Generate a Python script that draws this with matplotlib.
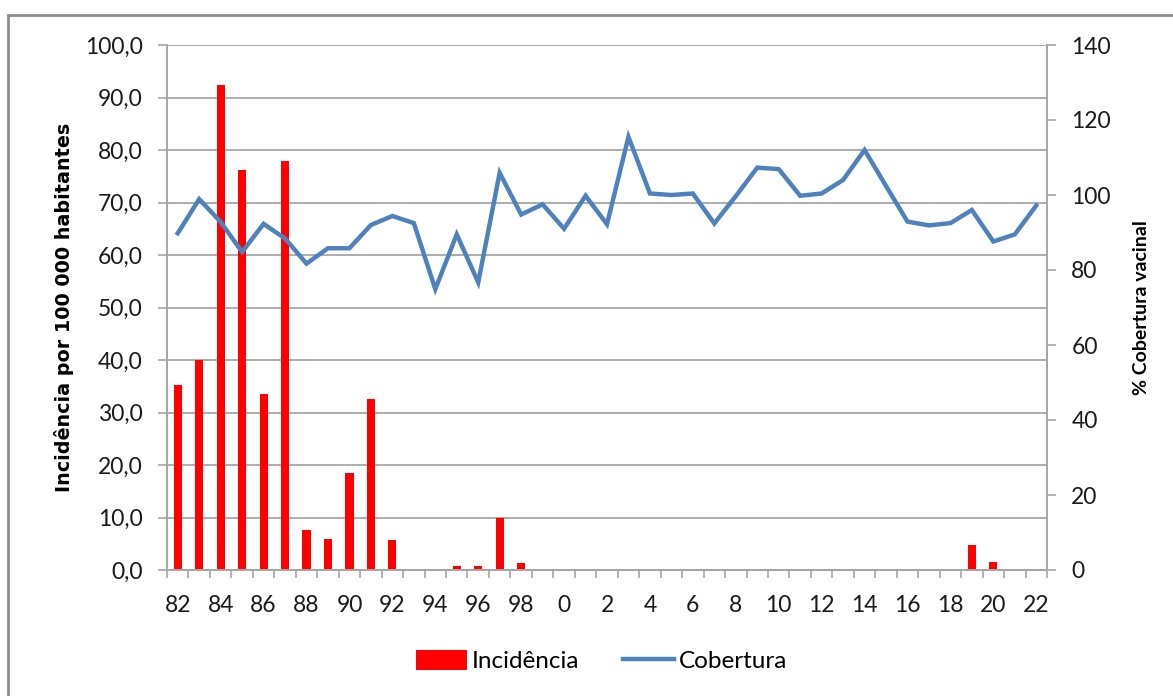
import numpy as np
import matplotlib
matplotlib.use("Agg")
from matplotlib import pyplot as plt
from matplotlib.patches import Patch, Rectangle
from matplotlib.lines import Line2D
from matplotlib.ticker import FuncFormatter

# anos 1982-2022
anos = list(range(1982, 2023))
rotulos = [str(a % 100) for a in anos]

# incidencia por 100 000 habitantes (eixo esquerdo)
incidencia = [35.2, 40.0, 92.3, 76.2, 33.5, 78.0, 7.7, 6.0, 18.4, 32.6,
              5.7, 0.0, 0.0, 0.8, 0.8, 10.0, 1.3, 0.0, 0.0, 0.0,
              0.0, 0.0, 0.0, 0.0, 0.0, 0.0, 0.0, 0.0, 0.0, 0.0,
              0.0, 0.0, 0.0, 0.0, 0.0, 0.0, 0.0, 4.7, 1.6, 0.0, 0.0]

# % cobertura vacinal (eixo direito)
cobertura = [89.8, 98.9, 92.8, 84.8, 92.3, 88.4, 81.7, 85.8, 85.8, 92.0,
             94.4, 92.5, 74.9, 89.5, 76.7, 105.9, 94.8, 97.5, 91.0, 99.8,
             92.2, 115.5, 100.4, 100.0, 100.4, 92.4, 99.7, 107.3, 106.9, 99.8,
             100.4, 104.0, 112.0, 102.4, 92.9, 91.9, 92.5, 96.0, 87.6, 89.5, 97.2]

vermelho = '#FF0000'
azul = '#4F81BD'
cinza = '#A6A6A6'
fonte = 'Lato'
tam = 16.5

fig = plt.figure(figsize=(11.73, 6.96), dpi=100)
fig.patches.append(Rectangle((8/1173, -0.1), 2.0, (696-15)/696 + 0.1,
                             transform=fig.transFigure, fill=False,
                             edgecolor='#8C8C8C', linewidth=2))

ax1 = fig.add_axes([167/1173, 1-570/696, 880/1173, 525/696])
ax2 = ax1.twinx()

x = np.arange(len(anos))
ax1.bar(x, incidencia, width=0.38, color=vermelho, zorder=2)
ax2.plot(x, cobertura, color=azul, linewidth=3.2, solid_joinstyle='miter', zorder=3)

ax1.set_xlim(-0.5, len(anos) - 0.5)
ax1.set_ylim(0, 100)
ax1.set_yticks(np.arange(0, 101, 10))
ax1.yaxis.set_major_formatter(FuncFormatter(lambda v, p: f"{v:.1f}".replace('.', ',')))
ax2.set_ylim(0, 140)
ax2.set_yticks(np.arange(0, 141, 20))

# rotulos do eixo x nos anos pares, tracinhos entre categorias
ax1.set_xticks(x[::2])
ax1.set_xticklabels(rotulos[::2])
ax1.set_xticks(np.arange(-0.5, len(anos)), minor=True)
ax1.tick_params(axis='x', which='major', length=0, pad=18, labelsize=tam)
ax1.tick_params(axis='x', which='minor', length=6, width=1.2, color=cinza, direction='out')
ax1.tick_params(axis='y', length=6.5, width=1.2, color=cinza, pad=11, labelsize=tam)
ax2.tick_params(axis='y', length=6.5, width=1.2, color=cinza, pad=11, labelsize=tam)

for lab in ax1.get_xticklabels() + ax1.get_yticklabels() + ax2.get_yticklabels():
    lab.set_family(fonte)
    lab.set_color('#1A1A1A')

ax1.grid(axis='y', color=cinza, linewidth=1.3)
ax1.set_axisbelow(True)
for ax in (ax1, ax2):
    ax.spines['top'].set_visible(False)
    for s in ('left', 'right', 'bottom'):
        ax.spines[s].set_color(cinza)
        ax.spines[s].set_linewidth(1.3)

ax1.set_ylabel('Incidência por 100 000 habitantes', fontsize=13.8, fontweight='bold',
               family='DejaVu Sans', labelpad=8)
ax2.set_ylabel('% Cobertura vacinal', fontsize=14, fontweight='bold',
               family=fonte, labelpad=16)

handles = [Patch(facecolor=vermelho, edgecolor='none'),
           Line2D([0], [0], color=azul, linewidth=3.2)]
fig.legend(handles, ['Incidência', 'Cobertura'], loc='center', ncol=2,
           bbox_to_anchor=(602/1173, 1-661/696), frameon=False,
           prop={'family': fonte, 'size': 17.5}, handlelength=2.1,
           handleheight=0.9, handletextpad=0.2, columnspacing=1.8)

fig.savefig('out.png', dpi=100)
